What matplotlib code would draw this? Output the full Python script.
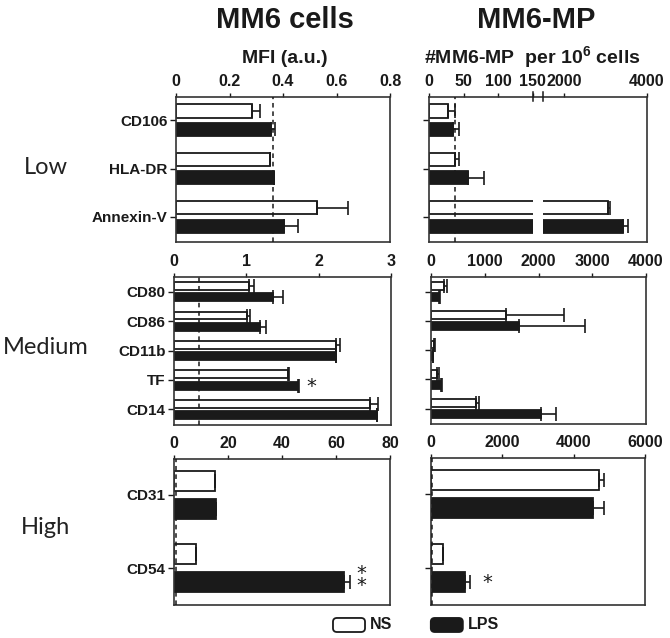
import numpy as np
import matplotlib
matplotlib.use('Agg')
import matplotlib.pyplot as plt
from matplotlib.patches import Rectangle, FancyBboxPatch

plt.rcParams['mathtext.fontset'] = 'custom'
plt.rcParams['mathtext.rm'] = 'Liberation Sans'
plt.rcParams['mathtext.bf'] = 'Liberation Sans:bold'

# ---- data ----
low_cats = ['CD106', 'HLA-DR', 'Annexin-V']
low_cell_ns = [0.285, 0.351, 0.526]
low_cell_ns_err = [0.029, 0.0, 0.116]
low_cell_lps = [0.355, 0.366, 0.402]
low_cell_lps_err = [0.016, 0.0, 0.055]
low_mp_ns = [27, 37, 3050]
low_mp_ns_err = [10, 6, 60]
low_mp_lps = [34.5, 56, 3420]
low_mp_lps_err = [9, 24, 120]

med_cats = ['CD80', 'CD86', 'CD11b', 'TF', 'CD14']
med_cell_ns = [1.03, 1.01, 2.235, 1.58, 2.705]
med_cell_ns_err = [0.08, 0.04, 0.06, 0.01, 0.12]
med_cell_lps = [1.37, 1.19, 2.24, 1.72, 2.80]
med_cell_lps_err = [0.13, 0.08, 0.0, 0.01, 0.01]
med_mp_ns = [250, 1400, 60, 120, 840]
med_mp_ns_err = [40, 1070, 20, 30, 60]
med_mp_lps = [140, 1640, 35, 185, 2050]
med_mp_lps_err = [20, 1230, 10, 25, 270]

high_cats = ['CD31', 'CD54']
high_cell_ns = [15.2, 8.1]
high_cell_ns_err = [0, 0]
high_cell_lps = [15.6, 63.0]
high_cell_lps_err = [0, 2]
high_mp_ns = [4700, 350]
high_mp_ns_err = [150, 0]
high_mp_lps = [4550, 960]
high_mp_lps_err = [300, 140]

# isotype thresholds (dashed lines)
thr_low_cell, thr_low_mp = 0.364, 38
thr_med_cell = 0.34
thr_high_cell, thr_high_mp = 0.7, 25

BOLD = ['Liberation Sans Narrow', 'Liberation Sans', 'DejaVu Sans']
ARIAL = ['Liberation Sans', 'DejaVu Sans']
INK = '#1a1a1a'

fig = plt.figure(figsize=(6.7, 6.38), dpi=100)


def draw_panel(rect, cats, ns, ns_err, lps, lps_err, thr=None,
               ylim_pad=(0.5, 0.5), xscale=None):
    ax = fig.add_axes(rect)
    if xscale is not None:
        ax.set_xscale('function', functions=xscale)
    y = np.arange(len(cats))
    off, h = 0.19, 0.27
    ekw = dict(ecolor=INK, elinewidth=1.2, capsize=5, capthick=1.2)
    ax.barh(y - off, ns, height=h, color='white', edgecolor=INK, linewidth=1.3,
            xerr=[np.zeros(len(ns)), ns_err], error_kw=ekw, zorder=2)
    ax.barh(y + off, lps, height=h, color=INK, edgecolor=INK, linewidth=1.3,
            xerr=[np.zeros(len(lps)), lps_err], error_kw=ekw, zorder=2)
    if thr is not None:
        ax.axvline(thr, color=INK, ls=(0, (3, 2.5)), lw=1.1, zorder=3)
    ax.set_ylim(len(cats) - 1 + ylim_pad[1], -ylim_pad[0])
    return ax, y


def style(ax, y, cats, xlim, xticks, labels):
    ax.set_xlim(*xlim)
    ax.set_xticks(xticks)
    ax.set_xticklabels([f'{t:g}' for t in xticks], fontsize=11.5,
                       fontweight='bold', family=ARIAL, color=INK)
    ax.xaxis.set_minor_locator(matplotlib.ticker.NullLocator())
    ax.xaxis.tick_top()
    ax.tick_params(axis='x', direction='out', length=3, width=1, pad=3,
                   colors=INK, bottom=False, top=True)
    ax.set_yticks(y)
    if labels:
        ax.set_yticklabels(cats, fontsize=11, fontweight='bold', family=ARIAL,
                           color=INK)
    else:
        ax.set_yticklabels([])
    ax.tick_params(axis='y', direction='out', length=4, width=1, pad=2,
                   colors=INK)
    for s in ax.spines.values():
        s.set_linewidth(1.2)
        s.set_color('#333333')


# broken x axis for the MM6-MP low panel: 0-150 | 1500-4000
def fwd(x):
    x = np.asarray(x, float)
    return np.where(x <= 150, x / 150 * 104,
                    np.where(x <= 1500, 104 + (x - 150) / 1350 * 10.3,
                             114.3 + (x - 1500) / 2500 * 104))


def inv(v):
    v = np.asarray(v, float)
    return np.where(v <= 104, v / 104 * 150,
                    np.where(v <= 114.3, 150 + (v - 104) / 10.3 * 1350,
                             1500 + (v - 114.3) / 104 * 2500))


# ---- Low ----
ax, y = draw_panel([0.2627, 0.6207, 0.3194, 0.2273], low_cats, low_cell_ns,
                   low_cell_ns_err, low_cell_lps, low_cell_lps_err,
                   thr=thr_low_cell, ylim_pad=(0.48, 0.52))
style(ax, y, low_cats, (0, 0.8), [0, 0.2, 0.4, 0.6, 0.8], True)

ax, y = draw_panel([0.6403, 0.6207, 0.3254, 0.2273], low_cats, low_mp_ns,
                   low_mp_ns_err, low_mp_lps, low_mp_lps_err, thr=thr_low_mp,
                   ylim_pad=(0.48, 0.52), xscale=(fwd, inv))
style(ax, y, low_cats, (0, 4000), [0, 50, 100, 150, 2000, 4000], False)
ax.add_patch(Rectangle((150, 2 - 0.19 - 0.2), 1350, 0.78, facecolor='white',
                       edgecolor='none', zorder=4))
for xb in (150, 1500):
    ax.plot([xb, xb], [0.975, 1.035], color=INK, lw=1.1,
            transform=ax.get_xaxis_transform(), clip_on=False, zorder=6)

# ---- Medium ----
ax, y = draw_panel([0.2597, 0.3339, 0.3239, 0.232], med_cats, med_cell_ns,
                   med_cell_ns_err, med_cell_lps, med_cell_lps_err,
                   thr=thr_med_cell, ylim_pad=(0.5, 0.53))
style(ax, y, med_cats, (0, 3), [0, 1, 2, 3], True)
ax.text(1.9, 3 + 0.22, '*', fontsize=14, ha='center', va='center', color=INK)

ax, y = draw_panel([0.6433, 0.3354, 0.3209, 0.2304], med_cats, med_mp_ns,
                   med_mp_ns_err, med_mp_lps, med_mp_lps_err,
                   ylim_pad=(0.5, 0.53))
style(ax, y, med_cats, (0, 4000), [0, 1000, 2000, 3000, 4000], False)

# ---- High ----
ax, y = draw_panel([0.2597, 0.0517, 0.3224, 0.2288], high_cats, high_cell_ns,
                   high_cell_ns_err, high_cell_lps, high_cell_lps_err,
                   thr=thr_high_cell, ylim_pad=(0.49, 0.5))
style(ax, y, high_cats, (0, 80), [0, 20, 40, 60, 80], True)
ax.text(69.5, 1 + 0.15, '*\n*', fontsize=14, ha='center', va='center',
        color=INK, linespacing=0.55)

ax, y = draw_panel([0.6433, 0.0517, 0.3194, 0.2304], high_cats, high_mp_ns,
                   high_mp_ns_err, high_mp_lps, high_mp_lps_err,
                   thr=thr_high_mp, ylim_pad=(0.49, 0.5))
style(ax, y, high_cats, (0, 6000), [0, 2000, 4000, 6000], False)
ax.text(1585, 1 + 0.19, '*', fontsize=14, ha='center', va='center', color=INK)

# ---- titles and row labels ----
fig.text(0.425, 0.968, 'MM6 cells', fontsize=21, fontweight='bold',
         family=BOLD, ha='center', va='center', color=INK)
fig.text(0.425, 0.909, 'MFI (a.u.)', fontsize=14, fontweight='bold',
         family=BOLD, ha='center', va='center', color=INK)
fig.text(0.80, 0.968, 'MM6-MP', fontsize=21, fontweight='bold',
         family=BOLD, ha='center', va='center', color=INK)
fig.text(0.795, 0.909, r'#MM6-MP  per 10$^{\mathbf{6}}$ cells', fontsize=14,
         fontweight='bold', family=BOLD, ha='center', va='center', color=INK)

for label, yy in (('Low', 168), ('Medium', 348), ('High', 527)):
    fig.text(0.068, 1 - yy / 638, label, fontsize=17,
             family=['Lato', 'DejaVu Sans'], ha='center', va='center',
             color='#222222')

# ---- legend ----
for x0, face, name in ((0.497, 'white', 'NS'), (0.643, INK, 'LPS')):
    fig.patches.append(FancyBboxPatch(
        (x0, 0.0094), 0.0478, 0.022, boxstyle='round,pad=0,rounding_size=0.006',
        transform=fig.transFigure, facecolor=face, edgecolor=INK, linewidth=1.3))
    fig.text(x0 + 0.055, 0.0205, name, fontsize=11.5, fontweight='bold',
             family=ARIAL, ha='left', va='center', color=INK)

fig.savefig('out.png', dpi=100)
